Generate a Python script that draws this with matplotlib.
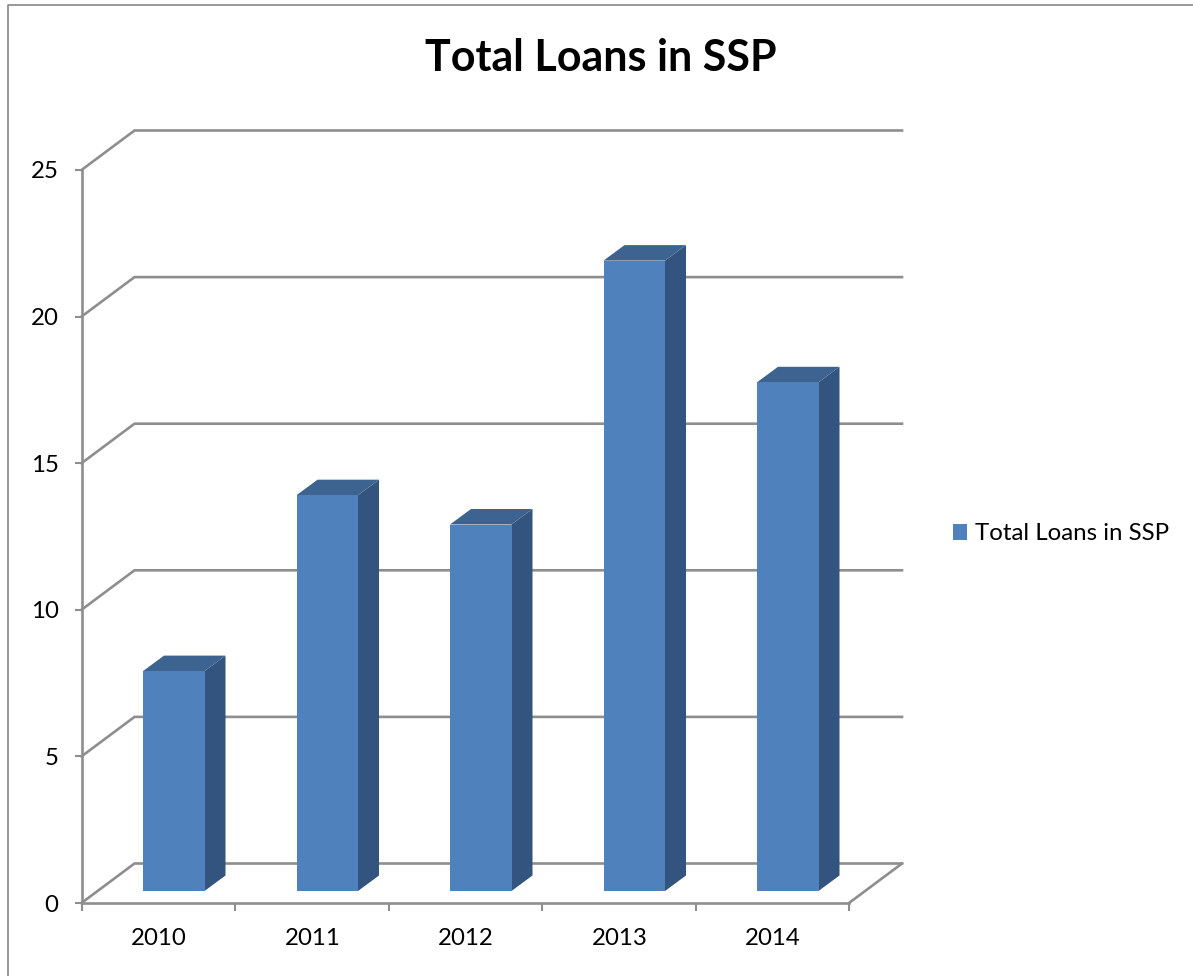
from matplotlib import pyplot as plt
from matplotlib.patches import Patch, Polygon

years = ["2010", "2011", "2012", "2013", "2014"]
loans = [7.5, 13.5, 12.5, 21.5, 17.35]
y_ticks = [0, 5, 10, 15, 20, 25]
series_name = "Total Loans in SSP"

FRONT = "#4F81BD"
SIDE = "#32547E"
TOP = "#3D6391"
GRID = "#8E8E8E"
BORDER = "#868686"

W, H = 1193, 976
plt.rcParams["font.family"] = ["Lato", "DejaVu Sans"]

fig = plt.figure(figsize=(W / 100, H / 100), dpi=100)
# front plane of the fake 3d box, in pixels from the top left
left, right, top, bottom = 81.5, 849, 170, 903
ax = fig.add_axes([left / W, 1 - bottom / H, (right - left) / W, (bottom - top) / H])
ax.set_xlim(-0.5, 4.5)
ax.set_ylim(0, 25)

x_unit = (right - left) / 5
y_unit = (bottom - top) / 25

# wall depth and bar placement inside the box
wall_dx = 53 / x_unit
wall_dy = 39.5 / y_unit
bar_dx = 15.5 / x_unit
bar_base = 12 / y_unit
bar_width = 61.5 / x_unit
depth_dx = 21 / x_unit
depth_dy = 15.5 / y_unit

# back wall and side wall lines
for v in y_ticks:
    ax.plot([-0.5, -0.5 + wall_dx, 4.5 + wall_dx], [v, v + wall_dy, v + wall_dy],
            color=GRID, lw=1.9, clip_on=False, zorder=1, solid_joinstyle="miter")
# right edge of the floor
ax.plot([4.5, 4.5 + wall_dx], [0, wall_dy], color=GRID, lw=1.9, clip_on=False, zorder=1)

for i, val in enumerate(loans):
    x0 = i + bar_dx - bar_width / 2
    x1 = x0 + bar_width
    y0 = bar_base
    y1 = bar_base + val
    ax.add_patch(Polygon([(x1, y0), (x1 + depth_dx, y0 + depth_dy), (x1 + depth_dx, y1 + depth_dy), (x1, y1)],
                         facecolor=SIDE, edgecolor="none", clip_on=False, zorder=3))
    ax.add_patch(Polygon([(x0, y1), (x1, y1), (x1 + depth_dx, y1 + depth_dy), (x0 + depth_dx, y1 + depth_dy)],
                         facecolor=TOP, edgecolor="none", clip_on=False, zorder=3))
ax.bar([i + bar_dx for i in range(len(loans))], loans, width=bar_width, bottom=bar_base,
       color=FRONT, zorder=4)

# axes
for name in ["top", "right"]:
    ax.spines[name].set_visible(False)
for name in ["left", "bottom"]:
    ax.spines[name].set_color(GRID)
    ax.spines[name].set_linewidth(1.9)
ax.patch.set_visible(False)

ax.set_yticks(y_ticks)
ax.tick_params(axis="y", length=5, width=1.5, color=GRID, labelsize=17.3, pad=11.5, labelcolor="black")
ax.set_xticks([-0.5, 0.5, 1.5, 2.5, 3.5, 4.5])
ax.set_xticklabels([])
ax.tick_params(axis="x", which="major", length=5.5, width=1.5, color=GRID)
# year labels sit a touch right of the tick midpoints
ax.set_xticks([i + 1 / x_unit for i in range(5)], minor=True)
ax.set_xticklabels(years, minor=True)
ax.tick_params(axis="x", which="minor", length=0, labelsize=17.3, pad=18, labelcolor="black")

fig.text(601 / W, 1 - 58 / H, series_name, ha="center", va="center", fontsize=31, fontweight="bold", color="black")

handle = Patch(facecolor=FRONT, edgecolor="none")
fig.legend([handle], [series_name], loc="center left", bbox_to_anchor=(943 / W, 1 - 534 / H), frameon=False,
           fontsize=17.3, handlelength=0.6, handleheight=0.6, handletextpad=0.33, borderpad=0.4, borderaxespad=0)

# outer chart frame, only top and left fall inside the canvas
fig.add_artist(plt.Line2D([8 / W, 8 / W, 1], [0, 1 - 5 / H, 1 - 5 / H], color=BORDER, lw=1.2))

fig.savefig("out.png", dpi=100)
